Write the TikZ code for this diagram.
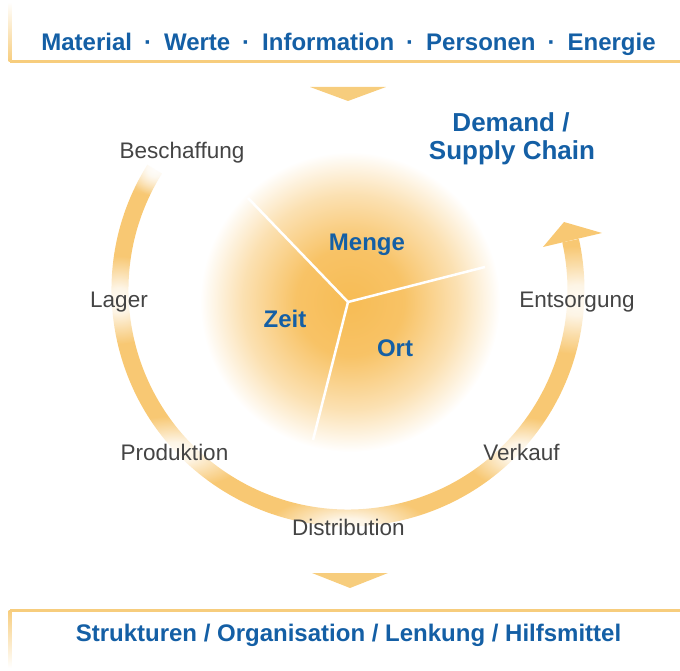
\documentclass[tikz,border=0pt]{standalone}
\usepackage{fontspec}
\setmainfont{Liberation Sans}
\usetikzlibrary{fadings,calc}
\definecolor{flowblue}{RGB}{20,95,165}
\definecolor{labelgray}{RGB}{68,68,68}
\definecolor{ringorange}{RGB}{248,200,115}
\definecolor{gloworange}{RGB}{247,188,85}
\definecolor{barorange}{RGB}{247,205,125}
\pgfdeclareradialshading{glow}{\pgfpoint{0bp}{0bp}}{color(0bp)=(gloworange); color(9bp)=(gloworange!90!white); color(18bp)=(gloworange!45!white); color(25bp)=(white); color(50bp)=(white)}
\pgfdeclareradialshading{veilshade}{\pgfpoint{0bp}{0bp}}{color(0bp)=(white!92!black); color(7bp)=(white!82!black); color(16bp)=(white!40!black); color(25bp)=(black); color(50bp)=(black)}
\pgfdeclarefading{veilfade}{\pgfuseshading{veilshade}}
\tikzset{
  headline/.style={font=\fontsize{24}{28}\selectfont\bfseries, text=flowblue, inner sep=0pt, anchor=base},
  phase/.style={font=\fontsize{22.5}{26}\selectfont, text=labelgray, inner sep=0pt, anchor=base},
  veil/.style={fill=white, path fading=veilfade},
  spoke/.style={white, line width=2.5pt},
  bar/.style={barorange, line width=3pt},
}
\newcommand{\flowsep}{\hspace{.5em}·\hspace{.5em}}
\begin{document}
\begin{tikzpicture}[x=1pt,y=1pt]
  \useasboundingbox (0,0) rectangle (680,670);
  \coordinate (Hub)        at (350,368);
  \coordinate (Junction)   at (348,368);
  \coordinate (RingCenter) at (348,380);
  \coordinate (RingStart)  at ($(RingCenter)+(148:228)$);
  \coordinate (SpokeA)     at (248,472);
  \coordinate (SpokeB)     at (485,403);
  \coordinate (SpokeC)     at (313,230);
  \shade [shading=glow] (Hub) circle (150);% Draw glow
  \draw [spoke] (Junction) -- (SpokeA);% Draw spokes
  \draw [spoke] (Junction) -- (SpokeB);
  \draw [spoke] (Junction) -- (SpokeC);

  \draw [ringorange, line width=17pt] (RingStart) arc [start angle=148, end angle=372.5, radius=228];% Draw ring
  \fill [ringorange] (543,423) -- (564,448) -- (602,437) -- cycle;% Draw arrow head
  \fill [veil] (RingStart) circle (26);% Fade ring start

  \foreach \name/\x/\y/\rx/\ry/\txt in {
      buy/182/511/90/48/Beschaffung,
      store/119/362/48/44/Lager,
      make/174.5/210/78/36/Produktion,
      ship/348.5/135/82/32/Distribution,
      sell/521.5/209/58/36/Verkauf,
      dispose/577/362/72/54/Entsorgung}{
    \fill [veil] (\x,\y+8) ellipse ({\rx} and {\ry});
    \node [phase] (\name) at (\x,\y) {\txt};
  }

  \node [headline] (Menge) at (367,419) {Menge};
  \node [headline] (Zeit)  at (285,342) {Zeit};
  \node [headline] (Ort)   at (395,313) {Ort};

  \node [headline, font=\fontsize{26}{30}\selectfont\bfseries] (demand) at (511,538) {Demand /};
  \node [headline, font=\fontsize{26}{30}\selectfont\bfseries] (chain)  at (512,510) {Supply Chain};

  \draw [bar] (10,608) -- (680,608);% Draw top bar
  \shade [top color=white, bottom color=barorange] (8.5,608) rectangle (11.5,668);
  \node [headline] (flows) at (348.5,619) {Material\flowsep Werte\flowsep Information\flowsep Personen\flowsep Energie};
  \fill [barorange] (310,583) -- (386,583) -- (348,569) -- cycle;% Draw down triangle

  \fill [barorange] (312,97) -- (388,97) -- (350,82) -- cycle;% Draw up triangle
  \draw [bar] (10,60) -- (680,60);% Draw bottom bar
  \shade [top color=barorange, bottom color=white] (8.5,2) rectangle (11.5,60);
  \node [headline] (means) at (348.5,29) {Strukturen / Organisation / Lenkung / Hilfsmittel};
\end{tikzpicture}
\end{document}
